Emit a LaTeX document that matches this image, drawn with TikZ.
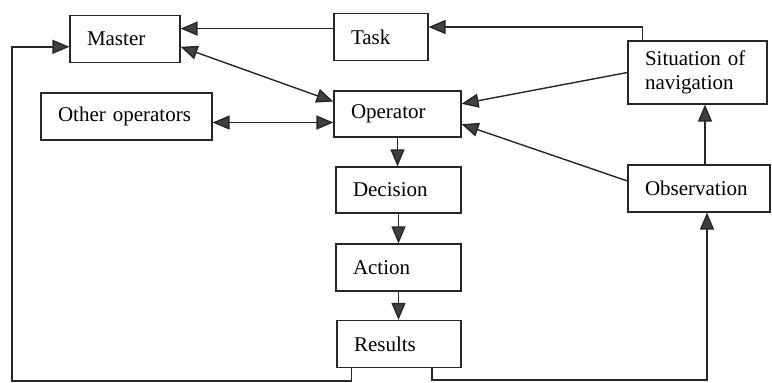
\documentclass[tikz,border=0pt]{standalone}
\usepackage{fontspec}
\setmainfont{Liberation Serif}
\usetikzlibrary{arrows.meta}
\tikzset{
  blk/.style={draw=black!85, line width=1.2pt, inner xsep=17pt, inner ysep=0pt,
    align=left, minimum height=47pt, font=\fontsize{21}{24}\selectfont},
  link/.style={draw=black!85, line width=1.4pt},
  tip/.style={link, -{Triangle[length=17pt,width=14pt,fill=black!75]}},
  twotip/.style={link, {Triangle[length=17pt,width=14pt,fill=black!75]}-{Triangle[length=17pt,width=14pt,fill=black!75]}},
}

\begin{document}
\begin{tikzpicture}[x=1pt,y=-1pt]
  \useasboundingbox (0,0) rectangle (772,383);

  \node[blk,text width=76pt] (1) at (125,39) {Master};
  \node[blk,text width=60pt] (2) at (381,37) {Task};
  \node[blk,text width=93pt,minimum height=46pt] (3) at (397.5,114) {Operator};
  \node[blk,text width=137pt] (4) at (126.5,116.5) {Other operators};
  \node[blk,text width=105pt,minimum height=63pt] (5) at (697.5,72.5) {Situation of\\navigation};
  \node[blk,text width=108pt] (6) at (699,188.5) {Observation};
  \node[blk,text width=91pt,minimum height=46pt] (7) at (398.5,190) {Decision};
  \node[blk,text width=91pt] (8) at (398.5,267.5) {Action};
  \node[blk,text width=90pt] (9) at (399,344) {Results};

  \coordinate (bl) at (12,381);
  \coordinate (br) at (707,380);

  \path
  (2.170) edge [tip] (1.east |- 2.170)
  (1.-8) edge [twotip] (3.169)
  (4.356) edge [twotip] (3.west |- 4.356)
  (5.west) edge [tip] (3.9)
  (6.174) edge [tip] (3.-9)
  (6.76) edge [tip] (6.76 |- 5.south)
  (3.south) edge [tip] (3.south |- 7.north)
  (7.south) edge [tip] (7.south |- 8.north)
  (8.south) edge [tip] (8.south |- 9.north);

  % feedback loops
  \draw[tip] ([xshift=15pt]5.north west) |- ([yshift=10pt]2.east);
  \draw[tip] (9.207) |- (bl) |- (1.188);
  \draw[tip] (9.-36) |- (br) -- (br |- 6.south);
\end{tikzpicture}
\end{document}
